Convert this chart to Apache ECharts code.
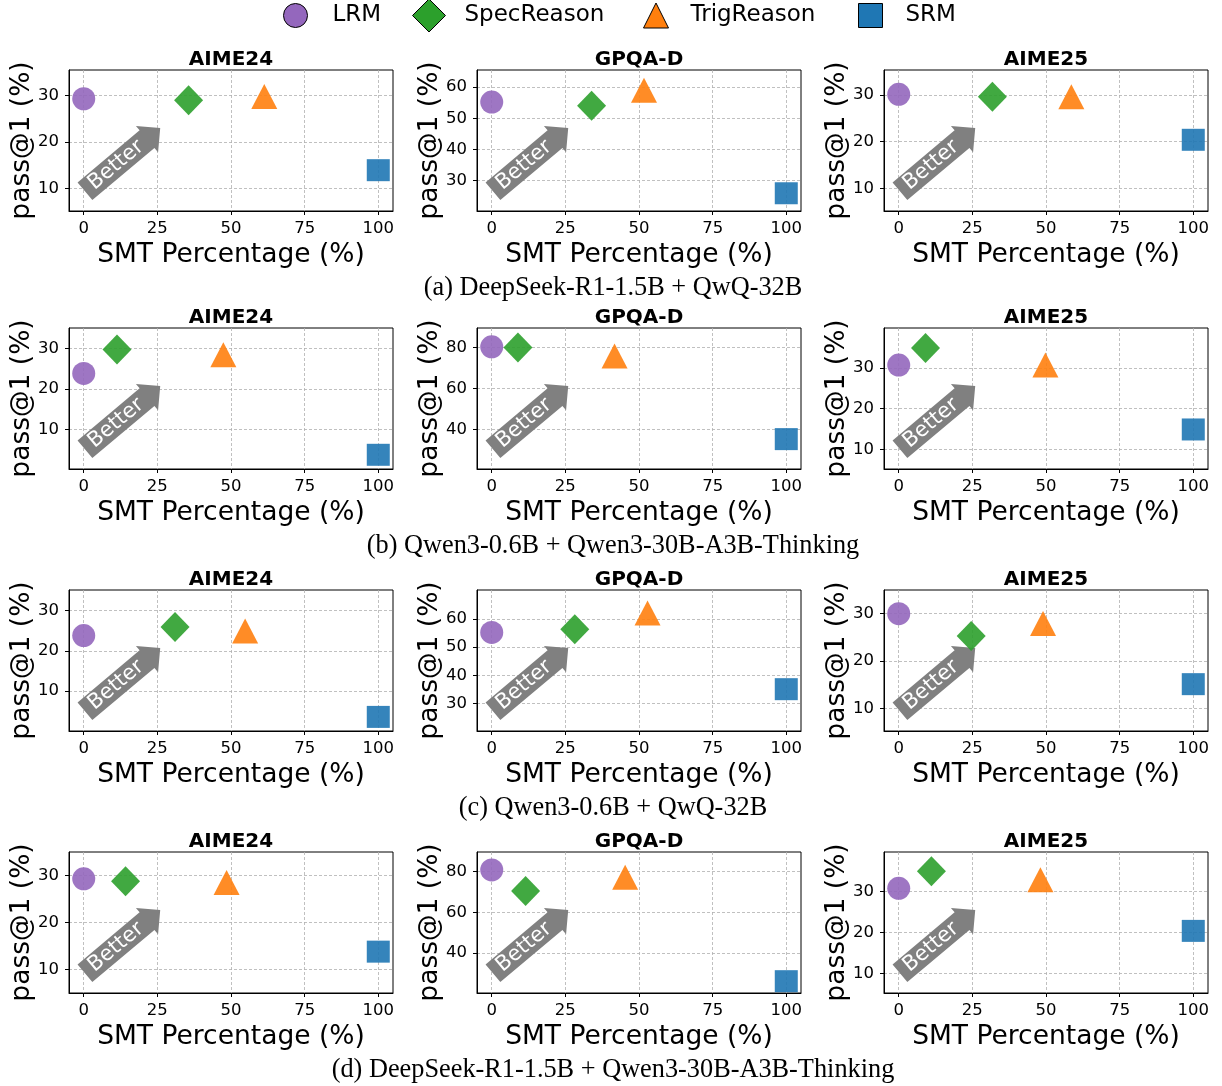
<!DOCTYPE html>
<html><head><meta charset="utf-8">
<script src="https://cdn.jsdelivr.net/npm/echarts@6/dist/echarts.min.js"></script>
<style>html,body{margin:0;padding:0;background:#fff}#c{width:1222px;height:1086px}</style>
</head><body><div id="c"></div>
<script>
// ---------------- data ----------------
const methods = ['LRM', 'SpecReason', 'TrigReason', 'SRM'];
const benchmarks = ['AIME24', 'GPQA-D', 'AIME25'];
const captions = [
  '(a) DeepSeek-R1-1.5B + QwQ-32B',
  '(b) Qwen3-0.6B + Qwen3-30B-A3B-Thinking',
  '(c) Qwen3-0.6B + QwQ-32B',
  '(d) DeepSeek-R1-1.5B + Qwen3-30B-A3B-Thinking'
];
const xTicks = [0, 25, 50, 75, 100];
const xRange = [-5, 105];

// each row: [AIME24, GPQA-D, AIME25], each entry ordered as methods
const smtA  = [[0, 35.6, 61.3, 100], [0, 33.9, 51.7, 100], [0, 31.8, 58.6, 100]];
const passA = [[29.3, 29.0, 29.8, 13.9], [55.2, 54.0, 59.0, 25.9], [30.1, 29.6, 29.6, 20.4]];
const smtB  = [[0, 11.3, 47.4, 100], [0, 8.9, 41.7, 100], [0, 9.1, 49.8, 100]];
const passB = [[23.8, 29.7, 28.4, 3.75], [80.3, 80.0, 75.8, 35.2], [30.7, 34.9, 30.7, 14.9]];
const smtC  = [[0, 31.0, 54.8, 100], [0, 28.2, 52.9, 100], [0, 24.6, 49.0, 100]];
const passC = [[23.8, 25.9, 24.9, 3.6], [55.2, 56.3, 62.1, 35.1], [30.0, 25.3, 27.9, 15.1]];
const smtD  = [[0, 14.2, 48.5, 100], [0, 11.5, 45.3, 100], [0, 11.1, 48.1, 100]];
const passD = [[29.3, 28.8, 28.5, 13.8], [80.8, 70.5, 77.2, 26.2], [30.8, 35.0, 32.9, 20.4]];

const yTicksA = [[10, 20, 30], [30, 40, 50, 60], [10, 20, 30]];
const yTicksB = [[10, 20, 30], [40, 60, 80], [10, 20, 30]];
const yTicksC = [[10, 20, 30], [30, 40, 50, 60], [10, 20, 30]];
const yTicksD = [[10, 20, 30], [40, 60, 80], [10, 20, 30]];
const yRangeA = [[5.1, 35.5], [20.2, 65.5], [5.2, 35.3]];
const yRangeB = [[0.25, 35], [20.6, 89.5], [5.2, 39.8]];
const yRangeC = [[0.1, 35.1], [20.3, 70.2], [5.2, 35]];
const yRangeD = [[5, 35], [20.4, 89.6], [5.2, 39.7]];

// ---------------- styles / layout ----------------
const FONT = 'DejaVu Sans';
const colors = ['#9467bd', '#2ca02c', '#ff7f0e', '#1f77b4'];
const symbols = ['circle', 'diamond', 'triangle', 'rect'];
const symSizes = [[23, 23], [29, 30], [26, 25], [23, 22]];
const colLeft = [69, 477, 884];
const rowTop = [70, 328, 590, 852];
const gridW = 324, gridH = 141;

const rows = [
  { smt: smtA, pass: passA, ticks: yTicksA, range: yRangeA },
  { smt: smtB, pass: passB, ticks: yTicksB, range: yRangeB },
  { smt: smtC, pass: passC, ticks: yTicksC, range: yRangeC },
  { smt: smtD, pass: passD, ticks: yTicksD, range: yRangeD }
];

// arrow shape (local frame, pointing right): body h=23, head 0.75h
const AH = 11.5, AL = 40.5, HW = 17.25, HL = 17.25;
const arrowPts = [[-AL, -AH], [AL, -AH], [AL, -HW], [AL + HL, 0], [AL, HW], [AL, AH], [-AL, AH]];

const grids = [], xAxes = [], yAxes = [], series = [], graphic = [];
const splitStyle = { type: [3, 2], color: '#b0b0b0', width: 0.8 };
let p = 0;
rows.forEach((row, r) => {
  for (let c = 0; c < 3; c++) {
    const left = colLeft[c], top = rowTop[r];
    grids.push({ left: left, top: top, width: gridW, height: gridH, show: true, borderColor: '#000', borderWidth: 1, backgroundColor: 'transparent' });
    xAxes.push({
      gridIndex: p, type: 'value', min: xRange[0], max: xRange[1],
      axisLine: { show: true, onZero: false, lineStyle: { color: '#000', width: 1 } },
      axisTick: { show: true, length: 4, customValues: xTicks, lineStyle: { color: '#000' } },
      axisLabel: { customValues: xTicks, fontSize: 16.5, color: '#000', fontFamily: FONT, margin: 9 },
      splitLine: { show: true, lineStyle: splitStyle },
      name: 'SMT Percentage (%)', nameLocation: 'middle', nameGap: 31, nameMoveOverlap: false,
      nameTextStyle: { fontSize: 26.5, color: '#000', fontFamily: FONT }
    });
    yAxes.push({
      gridIndex: p, type: 'value', min: row.range[c][0], max: row.range[c][1],
      axisLine: { show: true, onZero: false, lineStyle: { color: '#000', width: 1 } },
      axisTick: { show: true, length: 4, customValues: row.ticks[c], lineStyle: { color: '#000' } },
      axisLabel: { customValues: row.ticks[c], fontSize: 16.5, color: '#000', fontFamily: FONT, margin: 10 },
      splitLine: { show: true, lineStyle: splitStyle },
      name: 'pass@1 (%)', nameLocation: 'middle', nameGap: 33, nameMoveOverlap: false,
      nameTextStyle: { fontSize: 26.5, color: '#000', fontFamily: FONT }
    });
    methods.forEach((m, k) => {
      series.push({
        type: 'scatter', name: m, xAxisIndex: p, yAxisIndex: p,
        symbol: symbols[k], symbolSize: symSizes[k],
        itemStyle: { color: colors[k], opacity: 0.9 },
        emphasis: { disabled: true }, z: 3,
        data: [[row.smt[c][k], row.pass[c][k]]]
      });
    });
    // subplot title
    graphic.push({ type: 'text', x: left + gridW / 2, y: top - 10, z: 5,
      style: { text: benchmarks[c], font: 'bold 20px "DejaVu Sans"', fill: '#000', align: 'center', verticalAlign: 'middle', textAlign: 'center', textVerticalAlign: 'middle' } });
    // "Better" arrow (axes-fraction placement)
    graphic.push({ type: 'group', x: left + 0.145 * gridW, y: top + gridH * (1 - 0.325), rotation: 40 * Math.PI / 180,
      children: [
        { type: 'polygon', z: 1, shape: { points: arrowPts }, style: { fill: '#808080' } },
        { type: 'text', z: 1, x: 0, y: 0, style: { text: 'Better', font: '21px "DejaVu Sans"', fill: '#fff', align: 'center', verticalAlign: 'middle', textAlign: 'center', textVerticalAlign: 'middle' } }
      ] });
    p++;
  }
  graphic.push({ type: 'text', x: 613, y: rowTop[r] + 218, z: 5,
    style: { text: captions[r], font: '26.3px "Liberation Serif"', fill: '#000', align: 'center', verticalAlign: 'middle', textAlign: 'center', textVerticalAlign: 'middle' } });
});

const legendCommon = {
  orient: 'horizontal', padding: 0, itemGap: 0,
  textStyle: { fontSize: 23, color: '#000', fontFamily: FONT },
  itemStyle: { borderColor: '#000', borderWidth: 1, opacity: 1 }
};
const legendSpec = [
  { icon: 'circle', left: 283, w: 24, h: 24, pad: 20 },
  { icon: 'diamond', left: 412, w: 33, h: 33, pad: 14 },
  { icon: 'triangle', left: 643, w: 25, h: 25, pad: 17 },
  { icon: 'rect', left: 858, w: 24, h: 24, pad: 18 }
];
const legends = methods.map((m, k) => Object.assign({}, legendCommon, {
  data: [{ name: m, icon: legendSpec[k].icon }],
  left: legendSpec[k].left, top: 15 - legendSpec[k].h / 2,
  itemWidth: legendSpec[k].w, itemHeight: legendSpec[k].h,
  textStyle: Object.assign({}, legendCommon.textStyle, { padding: [0, 0, 0, legendSpec[k].pad] })
}));

const chart = echarts.init(document.getElementById('c'), null, { renderer: 'canvas', width: 1222, height: 1086 });
chart.setOption({
  animation: false,
  backgroundColor: '#fff',
  textStyle: { fontFamily: FONT },
  legend: legends,
  grid: grids, xAxis: xAxes, yAxis: yAxes,
  series: series,
  graphic: graphic
});
</script>
</body></html>
